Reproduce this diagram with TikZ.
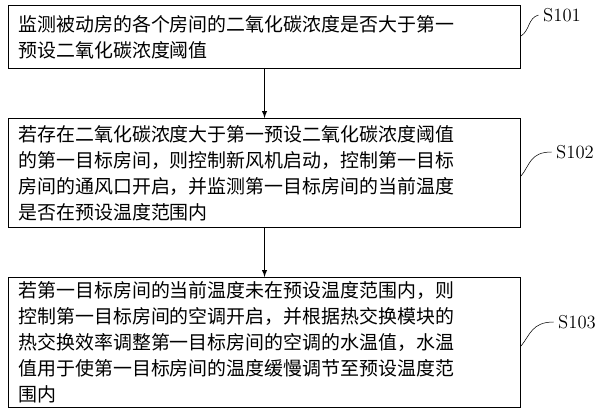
\documentclass[tikz,border=0pt]{standalone}
\usepackage{fontspec}
\newfontfamily\cjk{Noto Sans CJK SC}
\begin{document}
\begin{tikzpicture}[x=0.75pt,y=-0.75pt,
  stepbox/.style={draw,thick,text width=369pt,inner xsep=7.5pt,inner ysep=3pt,align=left,font=\cjk\fontsize{14.2pt}{19.5pt}\selectfont,anchor=north west},
  lbl/.style={font=\fontsize{14pt}{16pt}\selectfont},
  arr/.style={thick,-latex}]
\useasboundingbox (0,0) rectangle (600,417);
\node[stepbox,minimum height=47pt] (b1) at (8,5) {监测被动房的各个房间的二氧化碳浓度是否大于第一\\预设二氧化碳浓度阈值};
\node[stepbox,minimum height=82pt] (b2) at (8,118) {若存在二氧化碳浓度大于第一预设二氧化碳浓度阈值\\的第一目标房间，则控制新风机启动，控制第一目标\\房间的通风口开启，并监测第一目标房间的当前温度\\是否在预设温度范围内};
\node[stepbox,minimum height=96pt] (b3) at (8,277) {若第一目标房间的当前温度未在预设温度范围内，则\\控制第一目标房间的空调开启，并根据热交换模块的\\热交换效率调整第一目标房间的空调的水温值，水温\\值用于使第一目标房间的温度缓慢调节至预设温度范\\围内};
\draw[arr] (b1.south) -- (b2.north);
\draw[arr] (b2.south) -- (b3.north);
\node[lbl] (s1) at (562,15) {S101};
\node[lbl] (s2) at (575,152) {S102};
\node[lbl] (s3) at (577,322) {S103};
\draw (b1.east |- 0,36) .. controls (530,30) and (528,18) .. (s1.west);
\draw (b2.east |- 0,176) .. controls (530,165) and (530,152) .. (s2.west);
\draw (b3.east |- 0,346) .. controls (530,335) and (532,322) .. (s3.west);
\end{tikzpicture}
\end{document}
